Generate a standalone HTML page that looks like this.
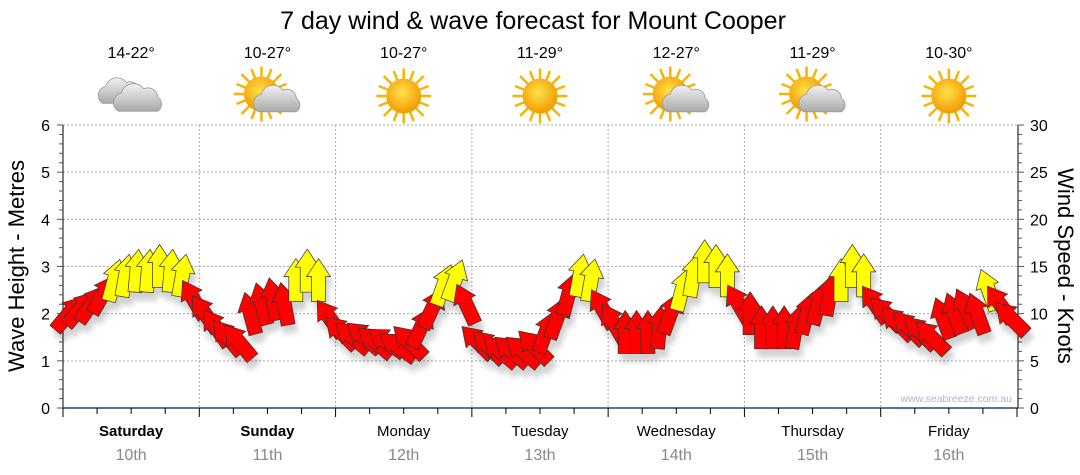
<!DOCTYPE html>
<html><head><meta charset="utf-8">
<style>
html,body{margin:0;padding:0;background:#fff;}
svg{display:block;font-family:"Liberation Sans","DejaVu Sans",sans-serif;}
</style></head>
<body>
<svg id="chart" width="1080" height="475" viewBox="0 0 1080 475" xmlns="http://www.w3.org/2000/svg">
<defs>
  <filter id="shadow" x="-50%" y="-50%" width="200%" height="200%">
    <feGaussianBlur in="SourceAlpha" stdDeviation="3"/>
    <feOffset dx="3" dy="8" result="b"/>
    <feComponentTransfer><feFuncA type="linear" slope="0.18"/></feComponentTransfer>
    <feMerge><feMergeNode/><feMergeNode in="SourceGraphic"/></feMerge>
  </filter>
  <radialGradient id="sunG" cx="45%" cy="40%" r="60%">
    <stop offset="0" stop-color="#ffe14a"/><stop offset="1" stop-color="#f29a00"/>
  </radialGradient>
  <linearGradient id="cloudG" x1="0" y1="0" x2="0" y2="1">
    <stop offset="0" stop-color="#f2f2f2"/><stop offset="1" stop-color="#a9a9a9"/>
  </linearGradient>
  <g id="sun">
    <g stroke="#f7b500" stroke-width="2">
      <line x1="0" y1="-22" x2="0" y2="22"/><line x1="-22" y1="0" x2="22" y2="0"/>
      <line x1="-16" y1="-16" x2="16" y2="16"/><line x1="-16" y1="16" x2="16" y2="-16"/>
      <line x1="-8" y1="-20" x2="8" y2="20"/><line x1="8" y1="-20" x2="-8" y2="20"/>
      <line x1="-20" y1="-8" x2="20" y2="8"/><line x1="-20" y1="8" x2="20" y2="-8"/>
    </g>
    <circle r="14" fill="url(#sunG)"/>
  </g>
  <g id="cloud">
    <path d="M-14,8 a7,7 0 0 1 2,-13 a9,9 0 0 1 16,-3 a7,7 0 0 1 10,6 a6,6 0 0 1 0,10 z" fill="url(#cloudG)" stroke="#9a9a9a" stroke-width="0.6"/>
  </g>
</defs>

<text x="533" y="29" font-size="25" text-anchor="middle" fill="#000">7 day wind &amp; wave forecast for Mount Cooper</text>

<g id="plot"></g>
<g id="header"></g>

<text transform="translate(24,266) rotate(-90)" font-size="22" text-anchor="middle" fill="#000">Wave Height - Metres</text>
<text transform="translate(1058,266) rotate(90)" font-size="22" text-anchor="middle" fill="#000">Wind Speed - Knots</text>
<text x="1012" y="402" font-size="10.5" text-anchor="end" fill="#a8b8cc">www.seabreeze.com.au</text>
</svg>
<script>
const days = ["Saturday","Sunday","Monday","Tuesday","Wednesday","Thursday","Friday"];
const dates = ["10th","11th","12th","13th","14th","15th","16th"];
const temps = ["14-22°","10-27°","10-27°","11-29°","12-27°","11-29°","10-30°"];
const icons = ["cloud","partly","sun","sun","partly","partly","sun"];
const waveTicks = [0,1,2,3,4,5,6];
const windTicks = [0,5,10,15,20,25,30];
const windSpeed = [
 10,10.5,11,12,13.5,14,14.5,14.5,15,14.5,14,11.5,
 10,8.5,7.5,7,10,11,11.5,11,13.5,14.5,13.5,9.5,
 8,7.5,7.5,7,7,6.5,7,8.5,10.5,13,13.5,11,
 7,6.5,6,6,6,6.5,8,9.5,12,14,13.5,10.5,
 9,8,8,8,8.5,10,12.5,14,15.5,15,14,11,
 10,8.5,8.5,8.5,8.5,10,11,12,13.5,15,14,11,
 10,9,8.5,8,7.5,9.5,10,10.5,10,12.5,11,9.5
];
const windDir = [
 40,40,35,30,15,10,5,5,0,5,10,-30,
 -35,-35,-40,-40,-15,-15,-10,-10,0,0,0,-35,
 -45,-50,-50,-50,-55,-55,-45,25,25,20,20,-25,
 -45,-45,-50,-50,-50,-45,20,20,15,10,10,-30,
 -30,0,0,0,5,20,15,10,0,0,0,-30,
 0,0,0,0,10,15,15,10,0,0,0,-35,
 -45,-45,-45,-45,-45,-20,-20,-25,-20,-20,-35,-45
];
const yellowThreshold = 12.5;

const NS="http://www.w3.org/2000/svg";
const X0=63, X1=1017, Y0=408, Y1=125;
const dayW=(X1-X0)/days.length;
const yWave=v=>Y0-(Y0-Y1)*v/6;
const yWind=v=>Y0-(Y0-Y1)*v/30;
const xIdx=i=>X0+(i+0.5)*dayW/12;
function el(tag,attrs,parent){const e=document.createElementNS(NS,tag);for(const k in attrs)e.setAttribute(k,attrs[k]);parent.appendChild(e);return e;}
const plot=document.getElementById('plot');
const header=document.getElementById('header');

waveTicks.forEach(v=>{ if(v>0){const g=el('line',{x1:X0,x2:X1,y1:yWave(v),y2:yWave(v),stroke:'#aaa','stroke-dasharray':'2,2'},plot);

}});
for(let d=1;d<days.length;d++){const x=X0+d*dayW;const g=el('line',{x1:x,x2:x,y1:Y1,y2:Y0,stroke:'#aaa','stroke-dasharray':'2,2'},plot);

}

const la=el('line',{x1:X0,x2:X0,y1:Y1,y2:Y0,stroke:'#000'},plot);


for(let i=0;i<=30;i++){const y=Y0-(Y0-Y1)*i/30;el('line',{x1:X0-(i%5==0?6:4),x2:X0,y1:y,y2:y,stroke:'#555'},plot);}
waveTicks.forEach(v=>{const t=el('text',{x:50,y:yWave(v)+6,'font-size':16,'text-anchor':'end',fill:'#000'},plot);t.textContent=v;

});
const ra=el('line',{x1:X1+1,x2:X1+1,y1:Y1,y2:Y0,stroke:'#000'},plot);


for(let i=0;i<=30;i++){const y=yWind(i);el('line',{x1:X1+1,x2:X1+(i%5==0?7:5),y1:y,y2:y,stroke:'#555'},plot);}
windTicks.forEach(v=>{const t=el('text',{x:1030,y:yWind(v)+6,'font-size':16,'text-anchor':'start',fill:'#000'},plot);t.textContent=v;

});
const bl=el('line',{x1:X0,x2:X1+1,y1:Y0,y2:Y0,stroke:'#1b4a73','stroke-width':1.5},plot);


for(let i=0;i<=days.length*4;i++){const x=X0+i*dayW/4;el('line',{x1:x,x2:x,y1:Y0,y2:Y0+(i%4==0?9:6),stroke:'#000'},plot);}

days.forEach((d,i)=>{const cx=X0+(i+0.5)*dayW;
 const t=el('text',{x:cx,y:436,'font-size':15,'text-anchor':'middle',fill:'#000','font-weight':i<2?'bold':'normal'},plot);t.textContent=d;
 
 
 const t2=el('text',{x:cx,y:460,'font-size':16,'text-anchor':'middle',fill:'#888'},plot);t2.textContent=dates[i];
 
 
 const t3=el('text',{x:cx,y:58,'font-size':16,'text-anchor':'middle',fill:'#000'},header);t3.textContent=temps[i];
 
 
 const g=el('g',{transform:`translate(${cx},96)`},header);
 
 
 if(icons[i]==='cloud'){el('use',{href:'#cloud',transform:'translate(-10,-3) scale(1.3)'},g);el('use',{href:'#cloud',transform:'translate(7,4) scale(1.4)'},g);}
 else if(icons[i]==='sun'){el('use',{href:'#sun',transform:'scale(1.25)'},g);}
 else {el('use',{href:'#sun',transform:'translate(-6,-2) scale(1.25)'},g);el('use',{href:'#cloud',transform:'translate(10,5) scale(1.35)'},g);}
});

const arrows=el('g',{filter:'url(#shadow)'},plot);


const arrowPath="M0,-22 L12,-4 L7,-4 L7,21 L-7,21 L-7,-4 L-12,-4 Z";
windSpeed.forEach((s,i)=>{
 const x=xIdx(i), y=yWind(s);
 const p=el('path',{d:arrowPath,transform:`translate(${x.toFixed(1)},${y.toFixed(1)}) rotate(${windDir[i]})`,fill:s>=yellowThreshold?'#ffff00':'#ff0000',stroke:'#333','stroke-width':0.7,'stroke-linejoin':'miter'},arrows);
 
 
});
</script>
</body></html>
